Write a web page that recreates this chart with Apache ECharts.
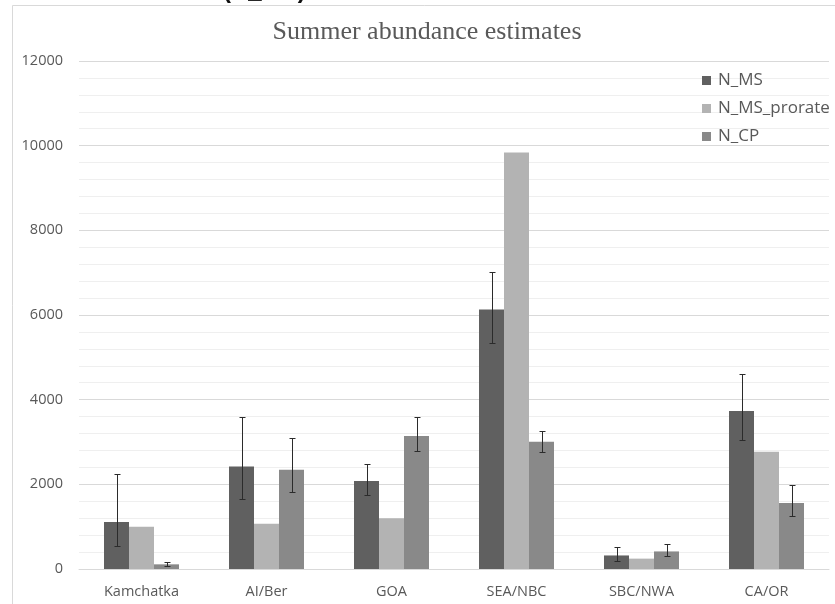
<!DOCTYPE html>
<html>
<head>
<meta charset="utf-8">
<script src="https://cdn.jsdelivr.net/npm/echarts@6/dist/echarts.min.js"></script>
<style>html,body{margin:0;padding:0;background:#fff}#c{width:835px;height:604px}</style>
</head>
<body>
<div id="c"></div>
<script>
var categories = ['Kamchatka', 'AI/Ber', 'GOA', 'SEA/NBC', 'SBC/NWA', 'CA/OR'];
var nMS = [1110, 2420, 2080, 6130, 320, 3730];
var nMSProrate = [1000, 1070, 1200, 9840, 245, 2770];
var nCP = [110, 2345, 3140, 3005, 415, 1560];
var nMSLow = [550, 1650, 1750, 5340, 190, 3040];
var nMSHigh = [2250, 3580, 2490, 7020, 510, 4600];
var nCPLow = [80, 1820, 2795, 2770, 305, 1250];
var nCPHigh = [170, 3100, 3580, 3265, 580, 1990];
var yTicks = [0, 2000, 4000, 6000, 8000, 10000, 12000];

var chart = echarts.init(document.getElementById('c'), null, {renderer: 'canvas'});
var GAP = 0.4;
function errorSeries(name, low, high, slot) {
  return {
    type: 'custom',
    name: name + '_err',
    z: 5,
    silent: true,
    encode: {x: 0, y: [1, 2]},
    data: categories.map(function (c, i) { return [i, low[i], high[i]]; }),
    renderItem: function (params, api) {
      var idx = api.value(0);
      var lo = api.coord([idx, api.value(1)]);
      var hi = api.coord([idx, api.value(2)]);
      var catW = api.size([1, 0])[0];
      var barW = catW * (1 - GAP) / 3;
      var cx = Math.round(lo[0] + slot * barW) + 0.5;
      var y1 = Math.round(hi[1]) + 0.5, y2 = Math.round(lo[1]) + 0.5;
      var cap = 3;
      var st = {stroke: '#2b2b2b', lineWidth: 1};
      return {type: 'group', children: [
        {type: 'line', shape: {x1: cx, y1: y1, x2: cx, y2: y2}, style: st},
        {type: 'line', shape: {x1: cx - cap, y1: y1, x2: cx + cap, y2: y1}, style: st},
        {type: 'line', shape: {x1: cx - cap, y1: y2, x2: cx + cap, y2: y2}, style: st}
      ]};
    }
  };
}

var option = {
  backgroundColor: '#ffffff',
  animation: false,
  graphic: [
    {type: 'rect', z: -10, shape: {x: 12.5, y: 5.5, width: 840, height: 620}, style: {fill: '#fff', stroke: '#d9d9d9', lineWidth: 1}},
    {type: 'text', x: 223, y: -9, style: {text: '(N_MS)', font: 'bold 24px "Liberation Sans"', fill: '#111', verticalAlign: 'middle'}},
    {type: 'text', x: 427, y: 32, style: {text: 'Summer abundance estimates', font: '26px "Liberation Serif"', fill: '#595959', align: 'center', verticalAlign: 'middle'}}
  ],
  legend: {
    orient: 'vertical',
    left: 697,
    top: 67,
    itemWidth: 9,
    itemHeight: 9,
    itemGap: 11,
    icon: 'rect',
    data: ['N_MS', 'N_MS_prorate', 'N_CP'],
    textStyle: {fontFamily: 'Open Sans', fontSize: 17, color: '#595959', padding: [0, 0, 0, 2]}
  },
  grid: {left: 79, right: 6, top: 61, bottom: 35, containLabel: false},
  xAxis: {
    type: 'category',
    data: categories,
    axisLine: {show: true, lineStyle: {color: '#d9d9d9'}},
    axisTick: {show: false},
    axisLabel: {margin: 15, fontFamily: 'Open Sans', fontSize: 14.5, color: '#595959'},
    splitLine: {show: false}
  },
  yAxis: {
    type: 'value',
    min: yTicks[0],
    max: yTicks[yTicks.length - 1],
    interval: 2000,
    axisLine: {show: false},
    axisTick: {show: false},
    axisLabel: {margin: 16, fontFamily: 'Open Sans', fontSize: 14.5, color: '#595959', formatter: function (v) { return String(v); }},
    splitLine: {show: true, lineStyle: {color: '#d9d9d9', width: 1}},
    minorTick: {show: false, splitNumber: 5},
    minorSplitLine: {show: true, lineStyle: {color: '#efefef', width: 1}}
  },
  series: [
    {name: 'N_MS', type: 'bar', data: nMS, barGap: '0%', barCategoryGap: (GAP * 100) + '%', itemStyle: {color: '#606060'}},
    {name: 'N_MS_prorate', type: 'bar', data: nMSProrate, barGap: '0%', barCategoryGap: (GAP * 100) + '%', itemStyle: {color: '#b3b3b3'}},
    {name: 'N_CP', type: 'bar', data: nCP, barGap: '0%', barCategoryGap: (GAP * 100) + '%', itemStyle: {color: '#898989'}},
    errorSeries('N_MS', nMSLow, nMSHigh, -1),
    errorSeries('N_CP', nCPLow, nCPHigh, 1)
  ]
};
chart.setOption(option);
</script>
</body>
</html>
